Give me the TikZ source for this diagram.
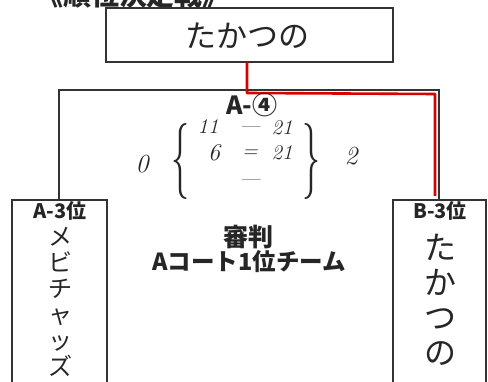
\documentclass[tikz,border=0pt]{standalone}
\usepackage{fontspec}
\newfontfamily\jp{Noto Sans CJK JP}
\begin{document}
\begin{tikzpicture}[x=1pt,y=-1pt,
  box/.style={draw=black!80,line width=1.8pt},
  label/.style={font=\jp\bfseries\fontsize{20}{20}\selectfont,text=black!85},
  hand/.style={font=\jp\fontsize{26}{28}\selectfont,text=black!85},
  num/.style={font=\itshape\fontsize{26}{26}\selectfont,text=black!85,inner sep=0pt},
  small/.style={font=\itshape\fontsize{21}{21}\selectfont,text=black!85,inner sep=0pt},
  brace/.style={font=\fontsize{40}{40}\selectfont,text=black!85,yscale=1.9,xscale=0.9},
  redline/.style={draw=red!85!black,line width=2.6pt}]
\useasboundingbox (0,0) rectangle (488,382);
% title (clipped at top, as in the reference)
\node[font=\jp\bfseries\fontsize{28}{28}\selectfont,text=black!85,anchor=base] (title) at (133,6) {《順位決定戦》};
% top box
\node[box,minimum width=287pt,minimum height=54pt,inner sep=0pt] (top) at (249.5,35) {};
\node[hand,font=\jp\fontsize{31}{31}\selectfont] (topname) at (247,36) {たかつの};
% bracket
\coordinate (jt) at (247,62);
\coordinate (jb) at (247,90);
\coordinate (bl) at (59,90);
\coordinate (br) at (439,90);
% side boxes
\node[box,minimum width=95pt,minimum height=190pt,inner sep=0pt,anchor=north west] (lbox) at (11,199) {};
\node[box,minimum width=93pt,minimum height=190pt,inner sep=0pt,anchor=north west] (rbox) at (392,199) {};
\coordinate (lt) at (59,199);
\coordinate (rt) at (439,199);
\draw[draw=black!80,line width=1.8pt] (lt) -- (bl) -- (br) -- (rt);
\draw[draw=black!80,line width=1.8pt] (jt) -- (jb);
% red winner path
\coordinate (r1) at (435,94);
\coordinate (r2) at (435,196);
\coordinate (r0) at (247,93);
\draw[redline,line join=round] (jt) -- (r0) -- (r1) -- (r2);
% labels
\node[label] (al) at (60,211) {A-3位};
\node[label] (bl3) at (440,211) {B-3位};
\node[label,font=\jp\bfseries\fontsize{25}{25}\selectfont] (match) at (252,105) {A-④};
\node[label,font=\jp\bfseries\fontsize{25}{25}\selectfont] (ref1) at (248,237) {審判};
\node[label,font=\jp\bfseries\fontsize{23.5}{23.5}\selectfont] (ref2) at (249,262) {Aコート1位チーム};
% vertical names
\node[hand,align=center,font=\jp\fontsize{24}{26}\selectfont] (lname) at (60,302) {メ\\ビ\\チ\\ャ\\ッ\\ズ};
\node[hand,align=center,font=\jp\fontsize{32}{35}\selectfont] (rname) at (440,300) {た\\か\\つ\\の};
% scores
\node[num] (s0) at (142,164) {0};
\node[brace] (lb) at (180,162) {\{};
\node[small] (r1a) at (208,127) {11};
\node[small] (r1b) at (250,130) {—};
\node[small] (r1c) at (282,128) {21};
\node[num,font=\itshape\fontsize{24}{24}\selectfont] (r2a) at (214,153) {6};
\node[small] (r2b) at (250,154) {=};
\node[small] (r2c) at (282,153) {21};
\node[small] (r3b) at (250,183) {—};
\node[brace] (rb) at (311,162) {\}};
\node[num] (s2) at (351,156) {2};
\end{tikzpicture}
\end{document}
